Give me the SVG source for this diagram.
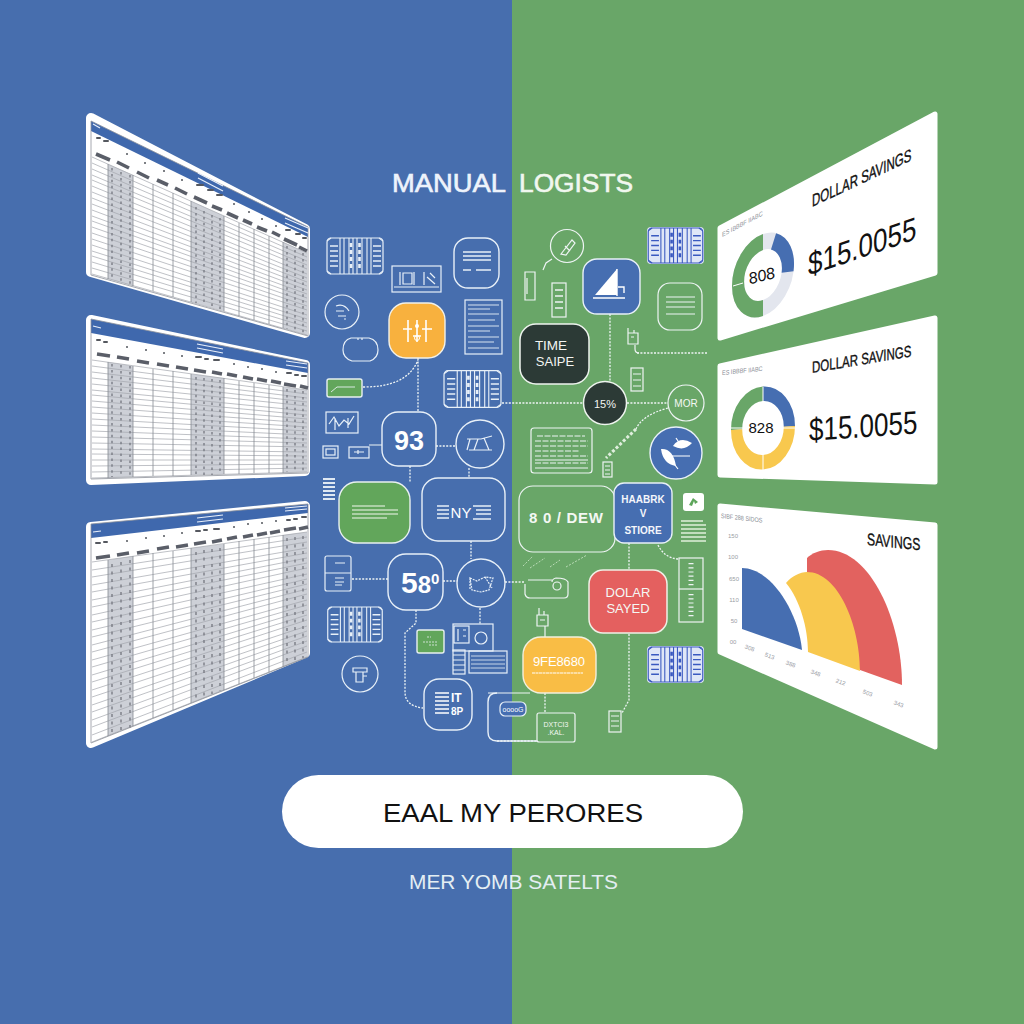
<svg xmlns="http://www.w3.org/2000/svg" width="1024" height="1024" viewBox="0 0 1024 1024">
<style>
text{font-family:"Liberation Sans",Arial,sans-serif}
.card{fill:#fff;stroke:#fff;stroke-width:10;stroke-linejoin:round}
.rc{fill:#fff;stroke:#fff;stroke-width:5;stroke-linejoin:round}
.hd{fill:#3f68ad}
.fr{fill:none;stroke:#8f939c;stroke-width:.8}
.gr{fill:#cdd0d7}
.row{fill:none;stroke:#a3a6ae;stroke-width:.7}
.col{fill:none;stroke:#868a92;stroke-width:.8}
.mk{fill:none;stroke:#73767f;stroke-width:1.3;stroke-dasharray:2.5 3.4}
.mk3{fill:none;stroke:#73767f;stroke-width:1.3;stroke-dasharray:3 4.5}
.bx{fill:none;stroke:#5a5e68;stroke-width:3.6}
.dot{fill:none;stroke:#55585f;stroke-width:2;stroke-linecap:round}
.hl{fill:none;stroke:#e8effa;stroke-width:1.2}
.l{fill:none;stroke:#e8f0f8;stroke-width:1.2}
.ln{fill:none;stroke:#e8f0f8;stroke-width:1.4}
.d{fill:none;stroke:#eef4f4;stroke-width:1.3;stroke-dasharray:2 1.4}
.s{fill:none;stroke:#eef4f4;stroke-width:1.2}
.gf{fill:#62a65b;stroke:#e8f0f0;stroke-width:1.4}
.bf{fill:#466eb1;stroke:#e8f0f8;stroke-width:1.4}
.w{fill:#fff}
.wt{fill:#fff;font-weight:bold;text-anchor:middle}
.lt{fill:#f4f8f4;text-anchor:middle}
.tiny{fill:#8b8f97;font-size:5.5px}
.ax{fill:#9a9da4;font-size:6px;text-anchor:middle}
.bk{fill:#111;stroke:#111;stroke-width:.25}
</style>
<defs>
<symbol id="mc" viewBox="0 0 58 38">
<rect x="1" y="1" width="56" height="36" rx="4" fill="none" stroke="currentColor" stroke-width="1.2"/>
<path d="M14 1V37M18 1V37M23 1V37M27 1V37M31 1V37M36 1V37M41 1V37M45 1V37M1 4L5 1M57 4L53 1M1 34L5 37M57 34L53 37" fill="none" stroke="currentColor" stroke-width="1.1"/>
<path d="M4 9H12M4 14H12M4 19H12M4 24H12M4 29H12M47 9H55M47 14H55M47 19H55M47 24H55M47 29H55" fill="none" stroke="currentColor" stroke-width="1.4"/>
<path d="M25 6V34M33.500 6V34" fill="none" stroke="currentColor" stroke-width="2.600" stroke-dasharray="4 3"/>
</symbol>
</defs>
<rect width="512" height="1024" fill="#476eae"/>
<rect x="512" width="512" height="1024" fill="#69a668"/>

<g id="title">
<text x="392" y="192" font-size="25" fill="#eef3fb" stroke="#eef3fb" stroke-width=".6" textLength="114" lengthAdjust="spacingAndGlyphs">MANUAL</text>
<text x="519" y="192" font-size="25" fill="#f1f7ef" stroke="#f1f7ef" stroke-width=".6" textLength="114" lengthAdjust="spacingAndGlyphs">LOGISTS</text>
</g>

<g id="table-1">
<polygon class="card" points="91,118 305,229 305,333 91,272"/>
<polygon class="hd" points="91,121 308,227 308,237 91,131"/>
<polygon class="gr" points="108,164 133,175 133,286 108,279"/>
<polygon class="gr" points="191,201 224,216 224,311 191,302"/>
<polygon class="gr" points="283,242 307,253 307,335 283,328"/>
<path class="row" d="M92 157L307 253M92 163L307 257M92 169L307 261M92 175L307 265M92 180L307 269M92 186L307 274M92 192L307 278M92 198L307 282M92 204L307 286M92 210L307 290M92 216L307 294M92 221L307 298M92 227L307 302M92 233L307 306M92 239L307 310M92 245L307 315M92 251L307 319M92 256L307 323M92 262L307 327M92 268L307 331M92 274L307 335"/>
<path class="col" d="M108 164V279M133 175V286M153 184V291M173 193V297M191 201V302M224 216V311M239 223V316M254 229V320M269 236V324M283 242V328"/>
<path class="mk" d="M112 168V280M121 172V283M130 175V285M196 207V303M204 211V305M212 215V308M220 218V310M287 246V329M295 250V331M303 253V334"/>
<polygon class="fr" points="91,121 308,227 308,336 91,275"/>
<path class="bx" d="M96 154L110 160M117 162L129 168M137 172L149 178M157 180L168 185M175 188L187 194M194 197L207 203M212 206L222 210M227 213L238 218M243 220L252 224M257 227L267 231M272 232L280 236M284 239L297 245M299 247L307 251"/>
<path class="dot" d="M127 154h.01M145 163h.01M164 171h.01M182 180h.01M234 204h.01M249 212h.01M262 219h.01M276 226h.01M97 138h3M104 141h4M197 185h6M208 190h5M217 195h5M286 230h4M296 234h4M303 238h3"/>
<path class="hl" d="M93 124l7 4M198 173l25 13M198 178l25 13M285 218l23 10M285 223l23 10"/>
</g>

<g id="table-2">
<polygon class="card" points="91,320 305,365 305,471 91,480"/>
<polygon class="hd" points="91,319 308,363 308,373 91,333"/>
<polygon class="gr" points="108,362 133,366 133,477 108,478"/>
<polygon class="gr" points="191,374 224,378 224,474 191,475"/>
<polygon class="gr" points="283,387 307,390 307,472 283,473"/>
<path class="row" d="M92 360L307 390M92 366L307 394M92 372L307 398M92 378L307 402M92 384L307 406M92 390L307 411M92 395L307 415M92 401L307 419M92 407L307 423M92 413L307 427M92 419L307 431M92 425L307 435M92 431L307 439M92 437L307 443M92 443L307 447M92 449L307 452M92 454L307 456M92 460L307 460M92 466L307 464M92 472L307 468M92 478L307 472"/>
<path class="col" d="M108 362V478M133 366V477M153 369V476M173 371V476M191 374V475M224 378V474M239 381V474M254 383V473M269 385V473M283 387V473"/>
<path class="mk" d="M112 364V477M121 365V477M130 366V477M196 377V475M204 378V475M212 379V475M220 380V474M287 389V472M295 390V472M303 391V472"/>
<polygon class="fr" points="91,319 308,363 308,473 91,479"/>
<path class="bx" d="M97 354L110 356M117 357L129 359M137 361L149 363M157 364L169 366M176 367L188 369M194 370L206 372M212 372L222 374M227 374L237 376M243 377L253 379M257 379L267 381M271 381L281 383M284 384L296 386M300 386L308 388"/>
<path class="dot" d="M127 347h.01M146 350h.01M164 353h.01M182 356h.01M234 364h.01M248 367h.01M262 369h.01M276 372h.01M97 340h3M104 342h3M196 357h5M205 359h3M214 360h5M287 373h4M295 375h3M302 376h4"/>
<path class="hl" d="M93 326l8 2M197 344l26 5M197 348l26 5M286 361l21 3M286 365l21 3"/>
</g>

<g id="table-3">
<polygon class="card" points="91,527 305,506 305,653 91,743"/>
<polygon class="hd" points="91,524 308,504 308,513 91,538"/>
<polygon class="gr" points="108,560 133,556 133,726 108,736"/>
<polygon class="gr" points="191,548 224,544 224,690 191,703"/>
<polygon class="gr" points="283,535 307,532 307,657 283,667"/>
<path class="row" d="M92 562L307 532M92 570L307 537M92 577L307 542M92 585L307 548M92 592L307 553M92 600L307 558M92 607L307 563M92 615L307 568M92 622L307 574M92 630L307 579M92 637L307 584M92 645L307 589M92 652L307 594M92 660L307 600M92 667L307 605M92 675L307 610M92 682L307 615M92 690L307 620M92 697L307 626M92 705L307 631M92 712L307 636M92 720L307 641M92 727L307 646M92 735L307 652M92 742L307 657"/>
<path class="col" d="M108 560V736M133 556V726M153 553V718M173 551V710M191 548V703M224 544V690M239 541V684M254 539V678M269 537V672M283 535V667"/>
<path class="mk3" d="M112 564V735M121 562V731M130 560V728M196 552V700M204 550V697M212 549V694M220 548V691M287 538V664M295 537V661M303 536V658"/>
<polygon class="fr" points="91,524 308,504 308,657 91,743"/>
<path class="bx" d="M96 558L110 556M117 555L129 553M137 553L149 551M157 549L169 547M176 547L188 545M194 544L206 542M212 542L222 540M227 539L237 537M243 537L253 535M257 535L267 533M270 533L280 531M284 530L296 528M299 529L308 527"/>
<path class="dot" d="M127 541h.01M146 538h.01M164 536h.01M182 533h.01M234 527h.01M248 524h.01M262 523h.01M276 521h.01M96 543h4M104 542h3M196 531h4M204 530h3M214 529h5M287 520h3M294 519h3M302 517h4"/>
<path class="hl" d="M93 532l8 -1M197 518l26 -3M197 522l26 -3M285 508l22 -2M285 511l22 -2"/>
</g>

<g id="connectors">
<path class="d" d="M418 358V412M363 387C390 387 410 380 418 360M436 446H456M410 466V482M469 468V478M352 579H388M443 581H457M471 541V559M505 582H525M480 608V624M416 610V623L405 633V692Q405 706 423 708M497 741H537M545 693V713M502 403H584M627 403H668M610 314V382M637 353H707M629 543V570M629 634V700L622 713M658 545C662 553 668 558 678 559M668 408C650 413 640 420 636 429"/>
<path class="s" d="M369 445H382M635 345V349Q635 353 639 353M545 626V637M488 693H530"/>
<path d="M636 429L606 458" fill="none" stroke="#dfeedd" stroke-width="3" stroke-dasharray="3 2"/>
<path d="M523 566L533 556M530 568L545 558M550 567L560 560M566 567L587 555" fill="none" stroke="#bcdcb8" stroke-width="1" stroke-dasharray="2 1.500"/>
</g>

<g id="n-machine-1"><use href="#mc" x="326" y="237" width="58" height="38" color="#e8f0f8"/></g>
<g id="n-box-b"><rect class="l" x="392" y="266" width="49" height="26"/><path class="l" d="M394 287H439M400 272V285M414 272V285M424 272V285M403 273h9v11h-9zM427 277l8 7M430 273l5 5"/></g>
<g id="n-doc-c"><rect class="ln" x="454" y="238" width="45" height="50" rx="14"/><path class="ln" d="M463 252H491M463 256H491M463 260H491M463 270H471M476 270H491"/></g>
<g id="n-circle-d"><circle class="l" cx="342" cy="312" r="17"/><path class="l" d="M336 306q8 -3 13 5M336 311h8M338 316h8M344 319h2"/></g>
<g id="n-hat-e"><path class="l" d="M351 338H369Q378 340 378 350Q378 358 370 361H352Q343 358 343 350Q343 340 351 338ZM358 338v2M362 338v2"/></g>
<g id="n-yellow-f"><rect x="389" y="303" width="56" height="55" rx="17" fill="#f8b13e" stroke="#f1f1ea" stroke-width="1.400"/><path d="M408 320V342M417 320V342M426 320V342M403 329H412M422 329H432M413 336H421" fill="none" stroke="#fff" stroke-width="1.600"/><circle cx="417" cy="326" r="2" class="w"/><circle cx="417" cy="338" r="2.500" fill="none" stroke="#fff"/></g>
<g id="n-doc-g"><rect class="l" x="465" y="300" width="37" height="54"/><path d="M468 305H499M468 309H490M468 314H499M468 320H495M468 326H499M468 331H490M468 337H499M468 342H494M468 348H499" fill="none" stroke="#e8f0f8" stroke-width=".9"/></g>
<g id="n-green-h"><rect class="gf" x="327" y="379" width="35" height="18" rx="2"/><path d="M331 392L337 387H355" fill="none" stroke="#e8f0f0" stroke-width=".9"/></g>
<g id="n-chart-j"><rect class="l" x="326" y="412" width="32" height="21"/><path class="l" d="M329 424L334 417L339 426L344 420L349 424L354 416M335 418V430M348 418V428"/></g>
<g id="n-small-k"><rect class="l" x="323" y="446" width="15" height="12"/><rect class="l" x="326" y="449" width="9" height="6"/><rect class="l" x="349" y="447" width="20" height="11"/><path class="l" d="M354 452H364M358 450V454"/></g>
<g id="n-93"><rect class="ln" x="382" y="412" width="54" height="54" rx="16"/><text class="wt" x="409" y="450" font-size="27">93</text></g>
<g id="n-circle-m"><circle class="ln" cx="480" cy="444" r="24"/><path class="l" d="M467 439H481L492 436M470 439L467 450M469 450H492M478 439L474 450M484 438L489 450"/></g>
<g id="n-machine-2"><use href="#mc" x="443" y="369" width="59" height="40" color="#e8f0f8"/></g>
<g id="n-stripe-o"><path d="M323 479H335M323 483H335M323 487H335M323 491H335M323 495H335M323 499H335" fill="none" stroke="#dfe8f2" stroke-width="1.800"/></g>
<g id="n-green-p"><rect class="gf" x="339" y="482" width="71" height="61" rx="18"/><path d="M352 506H385M352 510H398M352 514H398M352 518H387" fill="none" stroke="#f3f8f0" stroke-width="1.200"/></g>
<g id="n-blue-q"><rect class="ln" x="422" y="478" width="83" height="63" rx="16"/><path class="ln" d="M437 506H449M437 510H449M437 514H449M437 518H449M473 506H491M476 510H491M476 514H491M473 519H491" stroke-width="1.600"/><text x="461" y="518" font-size="15" fill="#fff" text-anchor="middle">NY</text></g>
<g id="n-card-s"><rect class="l" x="325" y="556" width="26" height="35" rx="2"/><path class="l" d="M325 573H351M335 563H345M335 578H344M335 582H344M335 585H342" stroke-width=".9"/></g>
<g id="n-580"><rect class="ln" x="388" y="554" width="55" height="56" rx="18"/><text x="401" y="593" fill="#fff" font-weight="bold" font-size="30">5<tspan font-size="24">8</tspan><tspan font-size="15" dy="-9">0</tspan></text></g>
<g id="n-circle-w"><circle class="ln" cx="481" cy="583" r="24"/><path class="l" d="M470 578L477 581L485 577L493 578L489 590L481 592L472 590ZM470 578V590M485 577L492 588" stroke-dasharray="2 1"/></g>
<g id="n-machine-3"><use href="#mc" x="326" y="606" width="58" height="37" color="#e8f0f8"/></g>
<g id="n-green-aa"><rect class="gf" x="417" y="630" width="27" height="23" rx="2"/><path d="M427 637h4M423 642h15M429 645h8" fill="none" stroke="#e8f0f0" stroke-width=".8" stroke-dasharray="2 1"/></g>
<g id="n-box-z"><rect class="l" x="453" y="624" width="40" height="27"/><rect class="l" x="454" y="626" width="15" height="17"/><path class="l" d="M458 629V641M463 630h3M463 636h3"/><circle class="l" cx="481" cy="638" r="6"/><rect class="l" x="453" y="650" width="12" height="24"/><path class="l" d="M453 655H465M453 660H465M453 665H465M453 670H465" stroke-width=".8"/><rect class="l" x="469" y="651" width="38" height="22"/><path d="M471 656H505M471 660H505M471 664H505M471 668H505" fill="none" stroke="#e8f0f8" stroke-width=".8"/></g>
<g id="n-circle-ac"><circle class="l" cx="360" cy="674" r="18"/><path class="l" d="M353 668H367V672H353ZM356 672V682H363V672M363 676H367"/></g>
<g id="n-node-ad"><rect class="ln" x="424" y="679" width="48" height="51" rx="15"/><path d="M435 693H449M435 697H449M435 701H449M435 705H449M435 709H449M435 713H449" fill="none" stroke="#fff" stroke-width="1.600"/><text x="451" y="702" fill="#fff" font-size="12" font-weight="bold">IT</text><text x="451" y="715" fill="#fff" font-size="10" font-weight="bold">8P</text></g>
<g id="n-wide-ae"><path class="ln" d="M537 741H497Q488 741 488 732V702Q488 693 497 693"/><rect x="500" y="702" width="26" height="14" rx="5" fill="#466eb1" stroke="#e8f0f8" stroke-width="1.200"/><text x="513" y="712" fill="#fff" font-size="7" text-anchor="middle">ooooG</text></g>

<g id="n-circle-r1"><circle class="s" cx="567" cy="246" r="16.500"/><path class="s" d="M561 254L572 240L575 243L566 255ZM565 246L570 251"/></g>
<g id="n-leaf"><path class="s" d="M552 259L546 263L543 270M525 272H535V300H525ZM527 278V294"/></g>
<g id="n-stack"><rect class="s" x="552" y="283" width="14" height="34"/><path d="M555 290H563M555 296H563M555 302H563M555 308H563" fill="none" stroke="#eef4f4" stroke-width="1.600"/></g>
<g id="n-blue-tri"><rect class="bf" x="583" y="259" width="57" height="55" rx="14"/><path d="M595 295L617 269V295Z" class="w"/><path d="M593 298H625M617 269V296M618 287H624V293" fill="none" stroke="#fff" stroke-width="1.400"/></g>
<g id="n-machine-r1"><rect x="647" y="227" width="57" height="37" rx="4" fill="#dfe6f7"/><use href="#mc" x="647" y="227" width="57" height="37" color="#3a59c0"/></g>
<g id="n-lines"><rect class="s" x="658" y="283" width="44" height="47" rx="12"/><path class="s" d="M666 297H695M666 302H695M666 307H695M666 314H695"/></g>
<g id="n-dark-time"><rect x="520" y="324" width="69" height="60" rx="16" fill="#2c3a36" stroke="#eef4ee" stroke-width="1.500"/><text x="551" y="350" font-size="13.500" fill="#f3f5f2" text-anchor="middle">TIME</text><text x="555" y="366" font-size="13" fill="#f3f5f2" text-anchor="middle">SAIPE</text></g>
<g id="n-ico-1"><path class="s" d="M628 333H638V344H628ZM628 333V328M634 333V330M631 337h3"/></g>
<g id="n-ico-2"><rect class="s" x="631" y="368" width="12" height="23"/><path class="s" d="M633 374H641M633 380H641M633 386H641"/></g>
<g id="n-15"><circle cx="605" cy="403" r="21.500" fill="#2c3a36" stroke="#eef4ee" stroke-width="1.500"/><text x="605" y="408" fill="#f3f5f2" font-size="11" text-anchor="middle">15%</text></g>
<g id="n-mor"><circle class="s" cx="686" cy="403" r="18"/><text class="lt" x="686" y="407" font-size="10">MOR</text></g>
<g id="n-doc-r"><rect class="s" x="531" y="428" width="61" height="45" rx="3"/><path d="M537 436H585M535 441H588M535 446H588M535 451H580M535 456H588M535 463H588" fill="none" stroke="#eef4f4" stroke-width="1.100" stroke-dasharray="6 1.500"/><path class="s" d="M535 460H588M535 468H588"/></g>
<g id="n-ico-3"><rect class="s" x="603" y="462" width="9" height="15"/><path class="s" d="M605 466h5M605 470h5M605 474h5"/></g>
<g id="n-blue-circle"><circle class="bf" cx="676" cy="453" r="26"/><path class="w" d="M661 449Q673 448 676 466Q663 464 661 449ZM673 446Q680 436 692 443Q684 452 673 446Z"/><path d="M668 456L678 469M672 456H690M676 438L680 444" fill="none" stroke="#fff" stroke-width="1.200"/></g>
<g id="n-wide-dew"><rect class="s" x="519" y="486" width="96" height="66" rx="14"/><text class="lt" x="566" y="523" font-size="15" font-weight="bold" textLength="74" lengthAdjust="spacing">8 0 / DEW</text></g>
<g id="n-blue-store"><rect class="bf" x="614" y="483" width="58" height="60" rx="10"/><g font-size="10" font-weight="bold" fill="#f4f6fb" text-anchor="middle"><text x="643" y="503">HAABRK</text><text x="643" y="517">V</text><text x="643" y="534">STIORE</text></g></g>
<g id="n-white-small"><rect x="683" y="493" width="21" height="18" rx="3" class="w"/><path d="M689 505L693 498L698 502L695 504L694 501L692 506Z" fill="#5da55a"/></g>
<g id="n-stripes"><path d="M681 521H703M681 525H706M681 529H706M681 533H706M681 537H706M681 541H706" fill="none" stroke="#dff0da" stroke-width="1.300"/></g>
<g id="n-stack-r"><rect class="s" x="679" y="558" width="24" height="64"/><path class="s" d="M679 589H703"/><path d="M691 563V586M691 594V617" fill="none" stroke="#eef4f4" stroke-width="5" stroke-dasharray="1.200 3"/></g>
<g id="n-dolar"><rect x="589" y="570" width="78" height="63" rx="14" fill="#e4605f" stroke="#efefe6" stroke-width="1.500"/><text class="lt" x="628" y="597" font-size="13">DOLAR</text><text class="lt" x="628" y="613" font-size="13">SAYED</text></g>
<g id="n-cam"><path class="s" d="M528 580H552M525 584V594Q526 598 530 598H564Q568 598 568 594V582Q566 578 556 578Q552 579 552 582"/><circle class="s" cx="557" cy="586" r="4"/></g>
<g id="n-ico-4"><path class="s" d="M537 615H548V626H537ZM539 615V608M544 615V611M540 620h5"/></g>
<g id="n-machine-r2"><rect x="647" y="646" width="57" height="37" rx="4" fill="#dfe6f7"/><use href="#mc" x="647" y="646" width="57" height="37" color="#3a59c0"/></g>
<g id="n-yellow-y"><rect x="523" y="637" width="73" height="56" rx="18" fill="#f9bd45" stroke="#f2efdc" stroke-width="1.400"/><text x="559" y="666" fill="#fff" font-size="13" text-anchor="middle" textLength="52">9FE8680</text><path d="M532 673H583" fill="none" stroke="#fff" stroke-width="1" stroke-dasharray="3 .5"/></g>
<g id="n-box-af"><rect class="s" x="537" y="713" width="38" height="29" rx="2"/><text class="lt" x="556" y="727" font-size="7">DXTCI3</text><text class="lt" x="556" y="735" font-size="7">.KAL.</text></g>
<g id="n-ico-5"><rect class="s" x="609" y="711" width="12" height="21"/><path class="s" d="M611 716H619M611 721H619M611 726H619"/></g>

<g id="card-1">
<polygon class="rc" points="720,228 935,114 935,273 720,338"/>
<g transform="matrix(31,-11,0,41,763,275)" fill="none" stroke-width=".39">
<circle r=".805" stroke="#e3e6ee"/>
<path d="M0 -.805A.805 .805 0 0 0 0 .805" stroke="#69a668"/>
<path d="M.34 -.73A.805 .805 0 0 1 .793 .14" stroke="#466eb1"/>
</g>
<path d="M733 286L743 283" stroke="#fff" stroke-width="1"/>
<text class="tiny" transform="matrix(1,-.53,0,1.200,722,237)">ES IBBBF IIABC</text>
<text transform="translate(763,281) rotate(-14)" font-size="16" font-style="italic" text-anchor="middle" fill="#111">808</text>
<text class="bk" transform="matrix(1,-.47,0,1.500,812,207)" font-size="11.500">DOLLAR SAVINGS</text>
<text fill="#111" transform="matrix(1,-.34,0,1.250,808,276)" font-size="26">$15.0055</text>
</g>

<g id="card-2">
<polygon class="rc" points="720,366 935,318 935,482 720,475"/>
<g transform="matrix(32,-2,0,41.500,763,428)" fill="none" stroke-width=".35">
<path d="M-.825 0A.825 .825 0 0 1 0 -.825" stroke="#69a668"/>
<path d="M0 -.825A.825 .825 0 0 1 .825 0" stroke="#466eb1"/>
<path d="M-.825 0A.825 .825 0 0 0 .825 0" stroke="#f8c84e"/>
</g>
<path d="M763 387V470M731 428H795" stroke="#fff" stroke-width="1" fill="none"/>
<text class="tiny" transform="matrix(1,-.1,0,1.200,722,375)">ES IBBBF IIABC</text>
<text x="761" y="433" font-size="15" text-anchor="middle" fill="#111">828</text>
<text class="bk" transform="matrix(1,-.167,0,1.400,812,373)" font-size="11.500">DOLLAR SAVINGS</text>
<text fill="#111" transform="matrix(1,-.07,0,1.250,809,441)" font-size="26">$15.0055</text>
</g>

<g id="card-3">
<polygon class="rc" points="720,506 935,525 935,747 720,652"/>
<text class="tiny" transform="matrix(1,.11,0,1.200,721,518)">SIBF 288 SIDOS</text>
<text class="bk" transform="matrix(1,.1,0,1.400,867,545)" font-size="12.200">SAVINGS</text>
<path d="M807 558C812 553 820 550 828 550C870 550 902 620 902 685L860 670L807 600Z" fill="#e2625f"/>
<path d="M742 568C770 568 798 610 802 650L742 629Z" fill="#466eb1"/>
<path d="M786 583C792 576 800 572 807 572C838 572 860 625 860 671L808 652C808 628 800 600 786 583Z" fill="#f8c84e"/>
<g class="ax"><text x="733" y="538">150</text><text x="733" y="559">100</text><text x="734" y="581">650</text><text x="734" y="602">110</text><text x="734" y="623">50</text><text x="733" y="644">00</text></g>
<g class="ax"><text transform="translate(749,650) rotate(20)">308</text><text transform="translate(769,658) rotate(20)">513</text><text transform="translate(790,666) rotate(20)">388</text><text transform="translate(815,675) rotate(20)">348</text><text transform="translate(840,684) rotate(20)">212</text><text transform="translate(867,695) rotate(20)">503</text><text transform="translate(898,706) rotate(20)">343</text></g>
</g>

<g id="pill">
<rect x="282" y="775" width="461" height="73" rx="36.500" fill="#fff"/>
<text x="383" y="822" font-size="26.500" fill="#111" textLength="260" lengthAdjust="spacingAndGlyphs">EAAL MY PERORES</text>
</g>
<text id="subtitle" x="409" y="889" font-size="19.500" fill="#e4eef3" textLength="209" lengthAdjust="spacingAndGlyphs">MER YOMB SATELTS</text>
</svg>
